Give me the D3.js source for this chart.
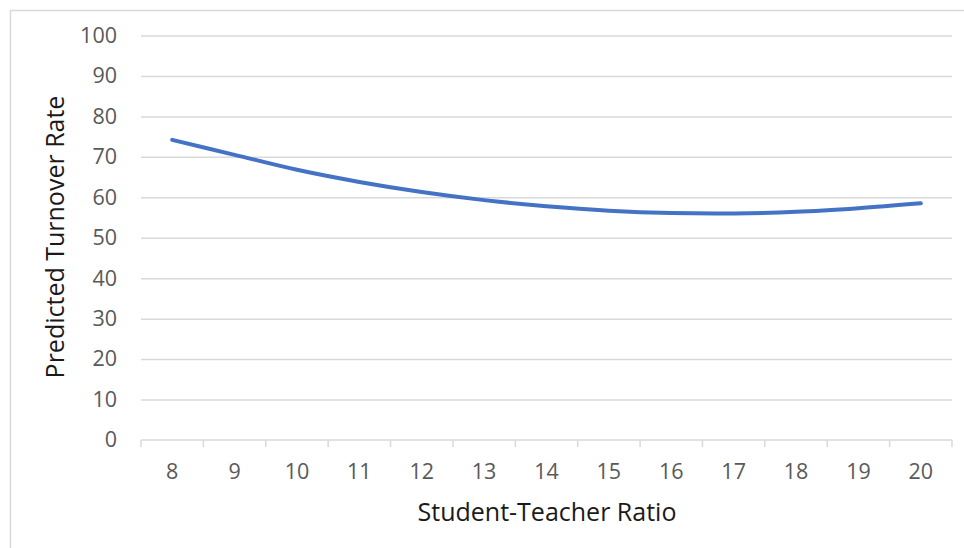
<!DOCTYPE html>
<html>
<head>
<meta charset="utf-8">
<script src="https://cdn.jsdelivr.net/npm/d3@7"></script>
<style>
  html, body { margin: 0; padding: 0; background: #fff; }
  svg { display: block; }
</style>
</head>
<body>
<svg id="chart" width="964" height="548"></svg>
<script>
// Student-teacher ratio categories and predicted turnover rate
const ratios = [8, 9, 10, 11, 12, 13, 14, 15, 16, 17, 18, 19, 20];
const turnover = [74.2, 70.5, 66.8, 63.8, 61.3, 59.3, 57.8, 56.7, 56.1, 56.0, 56.4, 57.3, 58.5];
const yTicks = [0, 10, 20, 30, 40, 50, 60, 70, 80, 90, 100];

const svg = d3.select("#chart");
const font = "'Open Sans', 'Noto Sans', sans-serif";

// chart frame (top and left edges visible)
svg.append("line").attr("x1", 10.5).attr("x2", 964).attr("y1", 10.5).attr("y2", 10.5)
  .attr("stroke", "#d9d9d9").attr("stroke-width", 1.5);
svg.append("line").attr("x1", 10.5).attr("x2", 10.5).attr("y1", 10.5).attr("y2", 548)
  .attr("stroke", "#d9d9d9").attr("stroke-width", 1.5);

const x = d3.scaleBand().domain(ratios).range([141, 952]);
const y = d3.scaleLinear().domain([0, 100]).range([440, 35.5]);

// gridlines + y labels
const yAxis = d3.axisLeft(y).tickValues(yTicks).tickSize(-(952 - 141)).tickPadding(24);
const gy = svg.append("g").attr("transform", "translate(141,0)").call(yAxis);
gy.select(".domain").remove();
gy.selectAll(".tick line").attr("stroke", "#d9d9d9").attr("stroke-width", 1.5)
  .filter(d => d === 0).remove();
gy.selectAll(".tick text").attr("fill", "#595959").attr("font-family", font).attr("font-size", 21.5);

// category axis with tick marks between categories
const gx = svg.append("g").attr("transform", "translate(0,440)");
gx.append("line").attr("x1", 141).attr("x2", 952).attr("stroke", "#d9d9d9").attr("stroke-width", 1.5);
const bounds = ratios.map(r => x(r)).concat([x(ratios[ratios.length - 1]) + x.bandwidth()]);
gx.selectAll("line.tk").data(bounds).join("line").attr("class", "tk")
  .attr("x1", d => d).attr("x2", d => d).attr("y1", 0).attr("y2", 7)
  .attr("stroke", "#d9d9d9").attr("stroke-width", 1.5);
gx.selectAll("text").data(ratios).join("text")
  .attr("x", d => x(d) + x.bandwidth() / 2).attr("y", 39)
  .attr("text-anchor", "middle").attr("fill", "#595959")
  .attr("font-family", font).attr("font-size", 21.5).text(d => d);

// series line
const line = d3.line()
  .x((d, i) => x(ratios[i]) + x.bandwidth() / 2)
  .y(d => y(d))
  .curve(d3.curveCatmullRom);
svg.append("path").datum(turnover).attr("d", line)
  .attr("fill", "none").attr("stroke", "#4472c4").attr("stroke-width", 4)
  .attr("stroke-linecap", "round").attr("stroke-linejoin", "round");

// axis titles
svg.append("text").attr("x", 547).attr("y", 521).attr("text-anchor", "middle")
  .attr("font-family", font).attr("font-size", 25).attr("fill", "#1a1a1a")
  .text("Student-Teacher Ratio");
svg.append("text").attr("transform", "translate(64,237) rotate(-90)").attr("text-anchor", "middle")
  .attr("font-family", font).attr("font-size", 25).attr("fill", "#1a1a1a")
  .text("Predicted Turnover Rate");
</script>
</body>
</html>
